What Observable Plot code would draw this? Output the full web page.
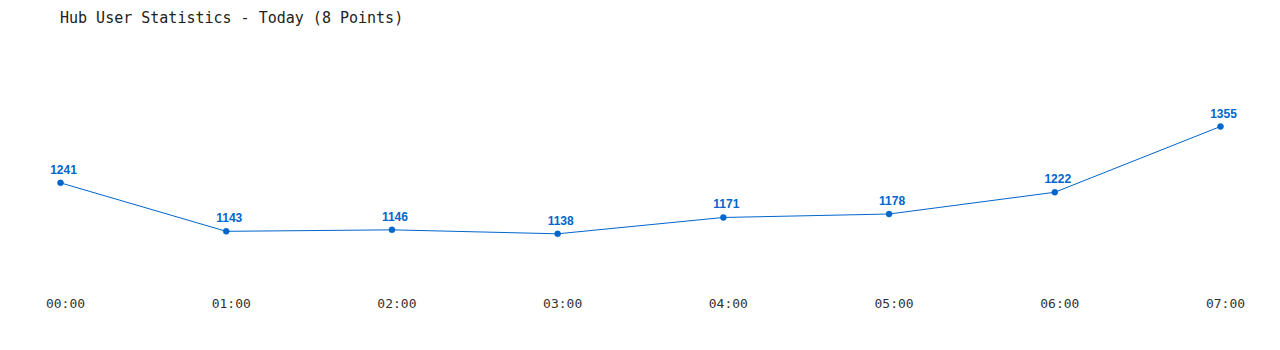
<!DOCTYPE html>
<html>
<head>
<meta charset="utf-8">
<script src="https://cdn.jsdelivr.net/npm/d3@7"></script>
<script src="https://cdn.jsdelivr.net/npm/@observablehq/plot@0.6"></script>
<style>
  html, body { margin: 0; padding: 0; background: #fff; }
  #title { height: 35px; box-sizing: border-box; padding: 9px 0 0 60px; font: 15px "DejaVu Sans Mono", monospace; color: #222; line-height: 18px; white-space: pre; }
  #chart svg { display: block; }
</style>
</head>
<body>
<div id="title">Hub User Statistics - Today (8 Points)</div>
<div id="chart"></div>
<script>
const hours = ["00:00", "01:00", "02:00", "03:00", "04:00", "05:00", "06:00", "07:00"];
const users = [1241, 1143, 1146, 1138, 1171, 1178, 1222, 1355];

const data = hours.map((h, i) => ({hour: h, users: users[i]}));
const blue = "#0066cc";

const chart = Plot.plot({
  width: 1280,
  height: 315,
  marginTop: 0,
  marginBottom: 54,
  marginLeft: 0,
  marginRight: 0,
  style: {background: "#fff"},
  x: {type: "point", domain: hours, range: [60, 1220], padding: 0, round: false, label: null},
  y: {domain: [1138, 1355], range: [198.3, 91], axis: null},
  marks: [
    Plot.axisX({tickSize: 0, tickPadding: 2, dx: 5, fontSize: 13, fontFamily: "DejaVu Sans Mono, monospace", fill: "#333", label: null}),
    Plot.line(data, {x: "hour", y: "users", stroke: blue, strokeWidth: 1}),
    Plot.dot(data, {x: "hour", y: "users", r: 3, fill: blue, stroke: blue, strokeWidth: 0.5}),
    Plot.text(data, {x: "hour", y: "users", text: d => String(d.users), lineAnchor: "bottom", dy: -9, dx: 3, fill: blue, fontWeight: "bold", fontSize: 12, fontFamily: "Liberation Sans, Arial, sans-serif"})
  ]
});
document.getElementById("chart").appendChild(chart);
</script>
</body>
</html>
